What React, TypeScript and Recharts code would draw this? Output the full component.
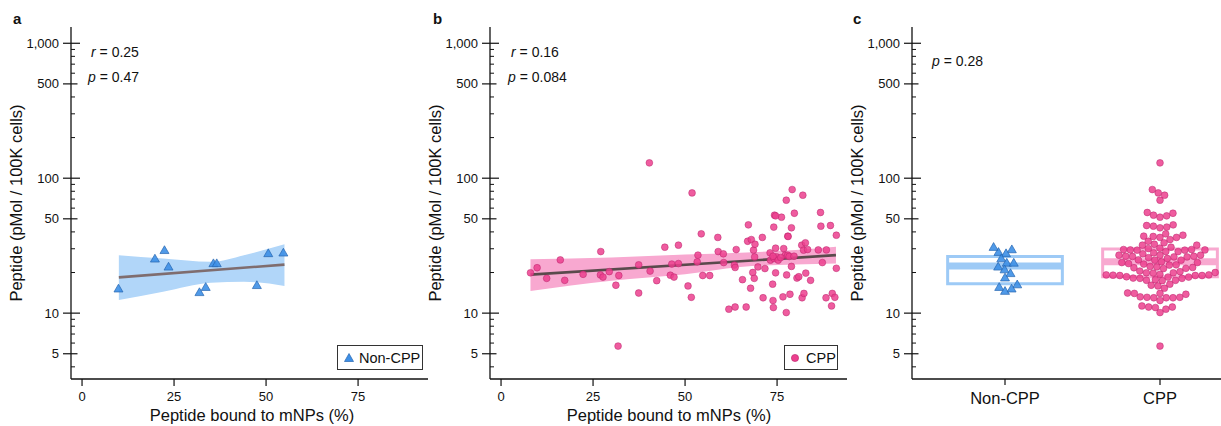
import React from 'react';
import {
  ComposedChart, Scatter, Area, Line, XAxis, YAxis, Legend, ReferenceArea, ReferenceLine,
} from 'recharts';

// ---------- data ----------
// Panel a: Non-CPP peptides (bound %, uptake)
const NONCPP_X = [9.9, 19.8, 22.4, 23.5, 31.9, 33.6, 35.7, 36.6, 47.5, 50.6, 54.7];
const NONCPP_Y = [15.0, 25.0, 28.9, 21.8, 14.1, 15.4, 23.1, 23.1, 15.9, 27.4, 27.7];
// Panel a regression fit and 95% band
const BAND_A_X = [10, 22, 35, 44, 55];
const BAND_A_LO = [12.5, 14.4, 16.8, 17.1, 15.9];
const BAND_A_HI = [26.9, 25.4, 24.0, 26.9, 32.4];
const FIT_A = [18.4, 22.9]; // at first and last band x

// Panel b: CPP peptides
const CPP_X = [
  8.0, 9.8, 12.4, 16.1, 17.3, 22.3, 27.1, 27.0, 27.7, 29.4, 31.2, 32.0, 31.8, 37.4, 37.4, 40.5,
  40.3, 42.3, 44.5, 46.0, 46.4, 47.0, 48.2, 48.2, 50.8, 51.7, 51.9, 53.3, 53.5, 54.4, 54.8, 56.7,
  58.9, 59.0, 60.4, 60.5, 61.9, 63.4, 63.6, 63.6, 63.9, 65.6, 66.6, 67.2, 67.0, 67.8, 68.0, 68.4,
  68.6, 68.8, 69.0, 68.9, 69.8, 71.0, 71.2, 71.7, 73.1, 73.2, 73.8, 73.9, 74.0, 74.1, 74.3, 74.6,
  74.6, 74.2, 74.9, 75.3, 76.2, 76.6, 76.8, 77.2, 77.5, 77.5, 77.6, 77.9, 77.9, 78.3, 78.5, 78.9,
  78.9, 79.1, 79.6, 79.7, 80.4, 80.9, 81.7, 81.8, 82.0, 82.2, 82.3, 82.7, 82.8, 83.3, 84.1, 86.2,
  86.8, 86.9, 87.3, 88.3, 88.4, 89.5, 89.8, 90.0, 90.7, 91.1, 91.1, 73.9, 76.0, 74.6, 78.0,
];
const CPP_Y = [
  19.9, 21.7, 18.1, 24.8, 17.5, 19.4, 28.6, 19.2, 18.5, 20.3, 16.1, 19.0, 5.7, 22.8, 14.1, 20.5,
  129.9, 17.4, 30.8, 19.1, 23.1, 18.5, 31.9, 23.3, 15.9, 13.1, 77.8, 24.0, 26.9, 38.7, 19.0, 19.0,
  36.4, 28.6, 27.5, 23.7, 10.7, 22.7, 21.8, 11.1, 29.6, 17.7, 11.1, 45.1, 34.1, 15.3, 35.1, 20.0,
  29.3, 18.1, 32.4, 26.1, 22.0, 36.4, 13.0, 21.4, 28.0, 24.7, 16.4, 12.4, 11.0, 43.4, 53.2, 30.3,
  19.9, 25.4, 26.1, 24.7, 51.4, 13.2, 30.1, 26.9, 10.1, 68.7, 19.2, 37.2, 26.9, 26.3, 13.8, 42.9,
  22.2, 82.4, 26.4, 55.0, 18.2, 18.6, 31.9, 13.0, 74.8, 29.3, 14.0, 33.2, 19.8, 29.6, 17.5, 29.4,
  55.7, 44.1, 23.7, 13.0, 29.4, 44.6, 11.3, 14.0, 13.1, 37.8, 21.5, 26.4, 25.8, 52.6, 37.0,
];
const BAND_B_X = [8, 30, 50, 65, 80, 91];
const BAND_B_LO = [14.6, 17.4, 19.4, 22.0, 22.9, 23.3];
const BAND_B_HI = [25.1, 25.8, 27.2, 28.0, 29.4, 31.0];
const FIT_B = [19.3, 26.9];

// Panel c: group comparison
const CATEGORIES = ['Non-CPP', 'CPP'];
const GROUP_NONCPP_Y = [28.0, 30.5, 29.3, 27.4, 25.1, 23.3, 23.3, 21.8, 20.8, 19.5, 18.1, 16.1, 15.4, 14.4, 15.0];
const BOX_Q1 = [16.5, 18.6];
const BOX_MEDIAN = [22.4, 24.0];
const BOX_Q3 = [26.3, 29.9];

// Axis ticks
const X_TICKS = [0, 25, 50, 75];
const Y_TICKS = [4, 5, 6, 7, 8, 9, 10, 20, 30, 40, 50, 60, 70, 80, 90, 100, 200, 300, 400, 500, 600, 700, 800, 900, 1000];
const Y_LABELED = [5, 10, 50, 100, 500, 1000];
const Y_DOMAIN: [number, number] = [3.25, 1320];
const X_DOMAIN: [number, number] = [-3, 94];
const C_DOMAIN: [number, number] = [0.4, 2.3935];

// ---------- styling ----------
const FONT = '"Liberation Sans", Arial, Helvetica, sans-serif';
const INK = '#111';
const BLUE = '#3d8fe6';
const BLUE_EDGE = '#2766b0';
const BLUE_BAND = '#b1d6f9';
const BLUE_BOX = '#9dcaf6';
const PINK = '#ec3f8e';
const PINK_EDGE = '#b8216a';
const PINK_BAND = '#f8a8d0';
const PINK_BOX = '#f8a9d0';

const TOP = 27;
const CH = 426;
const XAXIS_H = 47;
const PLOT_H = CH - TOP - XAXIS_H;

// ---------- helpers ----------
const fmt = (v: number) => (v >= 1000 ? v.toLocaleString('en-US') : String(v));

const YTick = (props: any) => {
  const { x, y, payload } = props;
  const v = payload.value;
  const labeled = Y_LABELED.includes(v);
  const decade = v === 10 || v === 100 || v === 1000;
  return (
    <g>
      {labeled ? (
        <line x1={x - 8} x2={x + (decade ? 9 : 6.5)} y1={y} y2={y} stroke={INK} strokeWidth={1.2} />
      ) : (
        <line x1={x} x2={x + 4} y1={y} y2={y} stroke={INK} strokeWidth={1} />
      )}
      {labeled && (
        <text x={x - 12} y={y + 4.5} textAnchor="end" fontSize={13} fontFamily={FONT} fill={INK}>
          {fmt(v)}
        </text>
      )}
    </g>
  );
};

const XTick = (props: any) => {
  const { x, y, payload } = props;
  return (
    <g>
      <line x1={x} x2={x} y1={y} y2={y + 7} stroke={INK} strokeWidth={1.2} />
      <text x={x} y={y + 21.5} textAnchor="middle" fontSize={13} fontFamily={FONT} fill={INK}>
        {payload.value}
      </text>
    </g>
  );
};

const CatTick = (props: any) => {
  const { x, y, payload } = props;
  return (
    <g>
      <line x1={x} x2={x} y1={y} y2={y + 6} stroke={INK} strokeWidth={1.2} />
      <text x={x} y={y + 25} textAnchor="middle" fontSize={16.5} fontFamily={FONT} fill={INK}>
        {CATEGORIES[payload.value - 1]}
      </text>
    </g>
  );
};

const Triangle = (props: any) => {
  const { cx, cy } = props;
  if (cx == null || cy == null) return <g />;
  const s = 9;
  const h = (s * Math.sqrt(3)) / 2;
  const d = `M${cx},${cy - (2 * h) / 3}L${cx + s / 2},${cy + h / 3}L${cx - s / 2},${cy + h / 3}Z`;
  return <path d={d} fill={BLUE} fillOpacity={0.9} stroke={BLUE_EDGE} strokeWidth={0.7} />;
};

const Dot = (props: any) => {
  const { cx, cy } = props;
  if (cx == null || cy == null) return <g />;
  return <circle cx={cx} cy={cy} r={3.4} fill={PINK} fillOpacity={0.85} stroke={PINK_EDGE} strokeWidth={0.6} strokeOpacity={0.8} />;
};

const makeBand = (xs: number[], lo: number[], hi: number[], fit: number[]) =>
  xs.map((x, i) => ({
    x,
    band: [lo[i], hi[i]],
    fit: i === 0 ? fit[0] : i === xs.length - 1 ? fit[1] : null,
  }));

const bandA = makeBand(BAND_A_X, BAND_A_LO, BAND_A_HI, FIT_A);
const bandB = makeBand(BAND_B_X, BAND_B_LO, BAND_B_HI, FIT_B);
const ptsA = NONCPP_X.map((x, i) => ({ x, y: NONCPP_Y[i] }));
const ptsB = CPP_X.map((x, i) => ({ x, y: CPP_Y[i] }));

// beeswarm layout in pixel space, converted back to data units
const C_PLOT_W = 381 - 72;
const C_PX_PER_UNIT = C_PLOT_W / (C_DOMAIN[1] - C_DOMAIN[0]);
const yPx = (v: number) =>
  (PLOT_H * (Math.log10(Y_DOMAIN[1]) - Math.log10(v))) / (Math.log10(Y_DOMAIN[1]) - Math.log10(Y_DOMAIN[0]));

function swarm(values: number[], center: number, diam: number) {
  const order = values.map((_, i) => i).sort((a, b) => values[a] - values[b]);
  const placed: { px: number; py: number }[] = [];
  const out: { x: number; y: number }[] = new Array(values.length);
  for (const i of order) {
    const py = yPx(values[i]);
    const near = placed.filter((p) => Math.abs(p.py - py) < diam);
    const cands = [0];
    near.forEach((p) => {
      const dx = Math.sqrt(diam * diam - (p.py - py) ** 2);
      cands.push(p.px + dx, p.px - dx);
    });
    cands.sort((a, b) => Math.abs(a) - Math.abs(b));
    let chosen = 0;
    for (const c of cands) {
      if (near.every((p) => (p.px - c) ** 2 + (p.py - py) ** 2 >= diam * diam - 1e-6)) {
        chosen = c;
        break;
      }
    }
    placed.push({ px: chosen, py });
    out[i] = { x: center + chosen / C_PX_PER_UNIT, y: values[i] };
  }
  return out;
}

const swarmNon = swarm(GROUP_NONCPP_Y, 1, 7);
const swarmCpp = swarm(CPP_Y, 2, 6.8);
const BOX_HALF = 0.37;

const LegendBox = ({ kind, label, width }: { kind: 'tri' | 'dot'; label: string; width: number }) => (
  <div
    style={{
      width,
      height: 25,
      boxSizing: 'border-box',
      border: '1.2px solid #333',
      background: '#fff',
      display: 'flex',
      alignItems: 'center',
      paddingLeft: 5,
      fontFamily: FONT,
      fontSize: 14.5,
      color: INK,
    }}
  >
    <svg width={12} height={12} style={{ marginRight: 4 }}>
      {kind === 'tri' ? (
        <path d="M6,1.5L10.5,9.5L1.5,9.5Z" fill={BLUE} stroke={BLUE_EDGE} strokeWidth={0.7} />
      ) : (
        <circle cx={5} cy={6} r={3.6} fill={PINK} stroke={PINK_EDGE} strokeWidth={0.6} />
      )}
    </svg>
    <span>{label}</span>
  </div>
);

const axisLine = { stroke: INK, strokeWidth: 1.3 };

function ScatterPanel({
  left, width, yw, right, band, pts, bandColor, lineColor, shape, legend,
}: any) {
  return (
    <div style={{ position: 'absolute', left, top: 0 }}>
      <ComposedChart width={width} height={CH} data={band} margin={{ top: TOP, right, bottom: 0, left: 0 }}>
        <XAxis
          type="number"
          dataKey="x"
          domain={X_DOMAIN}
          allowDataOverflow
          ticks={X_TICKS}
          interval={0}
          height={XAXIS_H}
          tickSize={0}
          tickMargin={0}
          tickLine={false}
          axisLine={axisLine}
          tick={<XTick />}
        />
        <YAxis
          type="number"
          dataKey="y"
          scale="log"
          domain={Y_DOMAIN}
          allowDataOverflow
          ticks={Y_TICKS}
          interval={0}
          width={yw}
          tickSize={0}
          tickMargin={0}
          tickLine={false}
          axisLine={axisLine}
          tick={<YTick />}
        />
        <Area dataKey="band" type="monotone" fill={bandColor} fillOpacity={1} stroke="none" isAnimationActive={false} />
        <Line dataKey="fit" connectNulls dot={false} stroke={lineColor} strokeWidth={2.6} isAnimationActive={false} />
        <Scatter data={pts} dataKey="y" shape={shape} isAnimationActive={false} />
        <Legend
          layout="vertical"
          align="center"
          verticalAlign="middle"
          wrapperStyle={{ left: legend.left, top: 345, width: legend.width, height: 25 }}
          content={() => <LegendBox kind={legend.kind} label={legend.label} width={legend.width} />}
        />
      </ComposedChart>
    </div>
  );
}

const T = (p: any) => <text fontFamily={FONT} fill={INK} {...p} />;

export default function App() {
  return (
    <div style={{ position: 'absolute', left: 0, top: 0, width: 1221, height: 426, background: '#fff', overflow: 'hidden' }}>
      <ScatterPanel
        left={0}
        width={430}
        yw={71}
        right={2}
        band={bandA}
        pts={ptsA}
        bandColor={BLUE_BAND}
        lineColor="#7f6d6f"
        shape={<Triangle />}
        legend={{ left: 337, width: 86, kind: 'tri', label: 'Non-CPP' }}
      />
      <ScatterPanel
        left={420}
        width={430}
        yw={70}
        right={3}
        band={bandB}
        pts={ptsB}
        bandColor={PINK_BAND}
        lineColor="#5a4a4c"
        shape={<Dot />}
        legend={{ left: 364, width: 54, kind: 'dot', label: 'CPP' }}
      />
      <div style={{ position: 'absolute', left: 840, top: 0 }}>
        <ComposedChart width={381} height={CH} margin={{ top: TOP, right: 0, bottom: 0, left: 0 }}>
          <XAxis
            type="number"
            dataKey="x"
            domain={C_DOMAIN}
            allowDataOverflow
            ticks={[1, 2]}
            interval={0}
            height={XAXIS_H}
            tickSize={0}
            tickMargin={0}
            tickLine={false}
            axisLine={axisLine}
            tick={<CatTick />}
          />
          <YAxis
            type="number"
            dataKey="y"
            scale="log"
            domain={Y_DOMAIN}
            allowDataOverflow
            ticks={Y_TICKS}
            interval={0}
            width={72}
            tickSize={0}
            tickMargin={0}
            tickLine={false}
            axisLine={axisLine}
            tick={<YTick />}
          />
          {CATEGORIES.map((c, i) => (
            <ReferenceArea
              key={'box' + c}
              x1={i + 1 - BOX_HALF}
              x2={i + 1 + BOX_HALF}
              y1={BOX_Q1[i]}
              y2={BOX_Q3[i]}
              fill="none"
              fillOpacity={0}
              stroke={i === 0 ? BLUE_BOX : PINK_BOX}
              strokeWidth={3}
              ifOverflow="visible"
            />
          ))}
          {CATEGORIES.map((c, i) => (
            <ReferenceLine
              key={'med' + c}
              segment={[
                { x: i + 1 - BOX_HALF, y: BOX_MEDIAN[i] },
                { x: i + 1 + BOX_HALF, y: BOX_MEDIAN[i] },
              ]}
              stroke={i === 0 ? BLUE_BOX : PINK_BOX}
              strokeWidth={7}
              ifOverflow="visible"
            />
          ))}
          <Scatter data={swarmNon} dataKey="y" shape={<Triangle />} isAnimationActive={false} />
          <Scatter data={swarmCpp} dataKey="y" shape={<Dot />} isAnimationActive={false} />
        </ComposedChart>
      </div>
      <svg width={1221} height={426} style={{ position: 'absolute', left: 0, top: 0, pointerEvents: 'none' }}>
        <T x={13} y={24} fontSize={15} fontWeight="bold">a</T>
        <T x={433} y={24} fontSize={15} fontWeight="bold">b</T>
        <T x={853} y={24} fontSize={15} fontWeight="bold">c</T>
        {[22, 441, 863].map((x) => (
          <T key={x} x={x} y={203} fontSize={16.5} textAnchor="middle" transform={`rotate(-90 ${x} 203)`}>
            Peptide (pMol / 100K cells)
          </T>
        ))}
        <T x={252} y={421} fontSize={16.5} textAnchor="middle">Peptide bound to mNPs (%)</T>
        <T x={669} y={421} fontSize={16.5} textAnchor="middle">Peptide bound to mNPs (%)</T>
        <T x={91} y={57} fontSize={14}><tspan fontStyle="italic">r</tspan> = 0.25</T>
        <T x={88} y={82} fontSize={14}><tspan fontStyle="italic">p</tspan> = 0.47</T>
        <T x={511} y={57} fontSize={14}><tspan fontStyle="italic">r</tspan> = 0.16</T>
        <T x={508} y={82} fontSize={14}><tspan fontStyle="italic">p</tspan> = 0.084</T>
        <T x={932} y={66} fontSize={14}><tspan fontStyle="italic">p</tspan> = 0.28</T>
      </svg>
    </div>
  );
}
